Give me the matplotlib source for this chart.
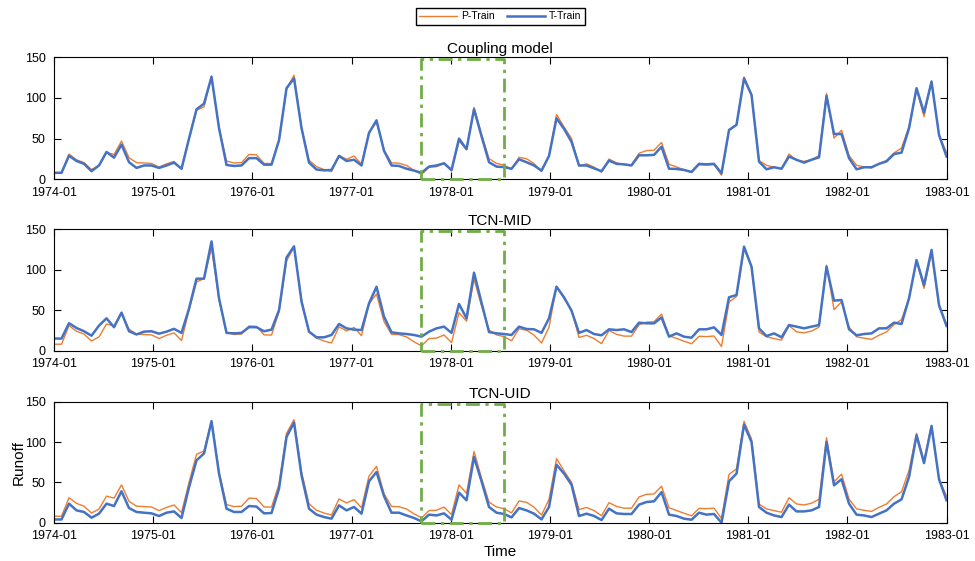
import numpy as np
import matplotlib
matplotlib.use("Agg")
import matplotlib.pyplot as plt

plt.rcParams['font.family'] = ['Liberation Sans', 'DejaVu Sans']

# monthly runoff, 120 samples shown on the 1974-01 .. 1983-01 axis
tick_labels = ['1974-01', '1975-01', '1976-01', '1977-01', '1978-01',
               '1979-01', '1980-01', '1981-01', '1982-01', '1983-01']

p_train = [8, 8, 31, 24, 20.5, 12, 17, 33, 30.5, 47,
           26.5, 20.5, 20, 19.5, 15, 19, 22, 12.5, 50, 85,
           89, 127, 63, 22.5, 20, 20.5, 30.5, 30, 19.5, 19.3,
           48, 111, 128, 63, 23.5, 15.5, 12, 9.5, 29.5, 24.5,
           28.7, 18.5, 58, 70, 36, 20.2, 19.8, 17, 11, 6,
           15, 15.5, 19.4, 10, 47, 36.5, 88.5, 55.5, 25.5, 19.5,
           17.4, 12.2, 27, 25.3, 19.3, 9.5, 29, 79.5, 64.5, 50.2,
           16.3, 19, 15, 8.7, 24.9, 20.2, 18, 18, 32, 35.3,
           35.7, 45.3, 18.4, 15.2, 11.7, 8.5, 17.8, 17.4, 18.1, 5.1,
           60, 67, 126, 104, 23, 17.2, 15, 13, 31, 23.3,
           22, 24.2, 29.1, 105.6, 50.7, 60.3, 29.3, 17.2, 15.4, 14,
           19.1, 23.2, 32.4, 38.4, 65, 111, 77, 121, 54.5, 33]

t_coupling = [8, 8, 29, 22.5, 19, 10, 17, 33.6, 26.6, 42.6,
              21, 14, 17, 17, 14, 17, 20.5, 13, 50, 86,
              93, 126, 63, 17.6, 16.4, 17, 26, 26, 18, 18,
              48, 112, 124, 63, 20.5, 12, 11, 11.5, 28.7, 22.5,
              24, 17, 57, 72.5, 35, 17, 16.4, 13, 10.7, 8,
              15.6, 17, 19.7, 11.5, 50, 37, 86, 53, 21, 15.6,
              15, 13, 24.6, 21, 17, 10.7, 28.7, 75, 62, 46,
              17, 17, 13.5, 10, 23, 19, 18.4, 17, 29.5, 29.5,
              30, 40, 13, 12.7, 11.5, 9, 19, 18.4, 19, 7.4,
              60.6, 67, 124, 103.7, 21.7, 12.3, 14.8, 13, 28, 24,
              20.5, 24, 27, 102.5, 55.7, 55.7, 26, 12.3, 14.8, 14.8,
              19, 22, 31, 32.8, 62.7, 112, 82, 120, 54.5, 28]

t_mid = [15, 15, 34, 28, 24, 18.5, 31, 40, 29, 47,
         24, 20, 23.5, 24, 21, 23.5, 27, 22, 52, 89,
         89, 135, 64.7, 22, 21.4, 22, 29, 29, 24, 26,
         50, 115, 129, 60.6, 23.5, 16.5, 16.5, 19.4, 33, 27.6,
         26, 25.5, 58.5, 79, 42, 22.7, 21.4, 20.6, 19.4, 17.3,
         23.5, 27.6, 29.7, 22, 57.7, 40, 96.4, 59.3, 23, 21.4,
         20.6, 19.4, 29.7, 26.8, 26.4, 22, 40, 79, 66, 49.4,
         22, 25.5, 20.6, 19, 26.4, 25.5, 26.4, 23, 34.6, 33.8,
         33.8, 41, 17.3, 21.4, 17.3, 16, 26.4, 26.4, 28.8, 19.4,
         66, 68.8, 128.5, 103.8, 27.6, 18, 21.4, 16.5, 31.7, 29.7,
         27.6, 29.7, 31.7, 103.8, 61.8, 62.6, 26.4, 19, 20.6, 21.4,
         27.6, 27.6, 34.6, 33, 64.7, 112, 81, 124.4, 56.4, 30.5]

t_uid = [4, 4, 23.6, 15.3, 13.3, 6.2, 11.2, 23.6, 20.7, 39,
         18.2, 13.3, 12.4, 11.6, 8.3, 12.4, 14, 5.8, 44, 77.5,
         86, 126, 61, 17.4, 13.3, 13.3, 20.7, 20, 11.6, 12,
         42.3, 106.5, 124.3, 58.8, 17.4, 10, 7, 5, 21.5, 15.3,
         19.5, 11.2, 51.4, 63, 33, 12.4, 12.4, 9, 5.8, 1.7,
         10, 9, 11.6, 3.7, 37.3, 27.8, 81.6, 51.4, 19.5, 12.4,
         10.8, 6.6, 18.2, 15.3, 11.2, 4.1, 19.5, 72, 61, 47.2,
         8.3, 11.2, 8.3, 3.3, 17.4, 11.6, 10.8, 10.8, 22.4, 25.7,
         26.5, 38, 10, 8.3, 5, 3.7, 12.4, 10, 10.8, 0,
         51.4, 61, 121.8, 100.3, 19.5, 12.4, 9, 7, 22.4, 14,
         14, 15.3, 19.5, 100.3, 46.4, 54, 23.6, 10, 9, 7,
         11.2, 15.3, 23.6, 29, 56.8, 108.6, 74, 120, 54, 27.8]

titles = ['Coupling model', 'TCN-MID', 'TCN-UID']
models = [t_coupling, t_mid, t_uid]

# highlighted window (sample index) and its height
box_x0, box_x1, box_top = 48.9, 60.0, 148

x = np.arange(len(p_train))
ticks = np.linspace(0, len(p_train) - 1, len(tick_labels))

fig = plt.figure(figsize=(9.75, 5.61), dpi=100)
positions = [[0.0554, 0.6804, 0.9154, 0.2175],
             [0.0554, 0.3749, 0.9154, 0.2164],
             [0.0554, 0.0683, 0.9154, 0.2152]]

for k in range(3):
    ax = fig.add_axes(positions[k])
    lp, = ax.plot(x, p_train, color='#ED7D31', lw=1.0, label='P-Train')
    lt, = ax.plot(x, models[k], color='#4472C4', lw=1.8, label='T-Train')
    ax.plot([box_x0, box_x1, box_x1, box_x0, box_x0],
            [0, 0, box_top, box_top, 0], color='#70AD47', lw=2.0,
            ls=(0, (5, 2, 1.2, 2)), clip_on=False, zorder=3)
    ax.set_xlim(0, len(p_train) - 1)
    ax.set_ylim(0, 150)
    ax.set_yticks([0, 50, 100, 150])
    ax.set_xticks(ticks)
    ax.set_xticklabels(tick_labels)
    ax.tick_params(direction='in', length=5, width=0.8, labelsize=9,
                   top=True, right=True)
    ax.tick_params(axis='x', pad=5.5)
    ax.tick_params(axis='y', pad=6)
    ax.set_title(titles[k], fontsize=11, pad=3)
    for s in ax.spines.values():
        s.set_linewidth(0.8)
    if k == 2:
        ax.set_ylabel('Runoff', fontsize=11)
        ax.yaxis.set_label_coords(-0.032, 0.5)
        ax.set_xlabel('Time', fontsize=11, labelpad=2)

fig.legend([lp, lt], ['P-Train', 'T-Train'], loc='center',
           bbox_to_anchor=(0.513, 0.971), ncol=2, fontsize=7.5,
           frameon=True, fancybox=False, edgecolor='black',
           handlelength=3.6, columnspacing=1.2, handletextpad=0.4,
           borderpad=0.35, framealpha=1)

plt.savefig('out.png', dpi=100)
